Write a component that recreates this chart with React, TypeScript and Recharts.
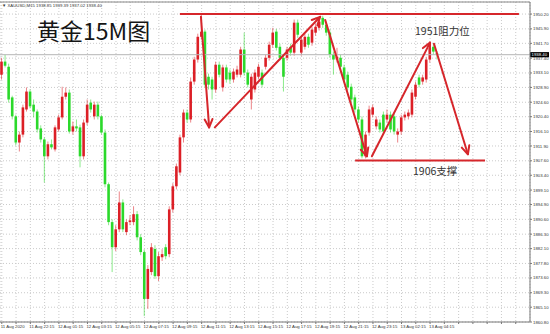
import { ComposedChart, Bar, XAxis, YAxis, CartesianGrid, ReferenceLine } from "recharts";

// XAUUSD M15, 11 Aug 20:15 -> 13 Aug 04:45
const timeLabels = [
  "11 Aug 2020", "11 Aug 22:15", "12 Aug 01:15", "12 Aug 03:15", "12 Aug 05:15", "12 Aug 07:15",
  "12 Aug 09:15", "12 Aug 11:15", "12 Aug 13:15", "12 Aug 15:15", "12 Aug 17:15", "12 Aug 19:15",
  "12 Aug 21:15", "12 Aug 23:15", "13 Aug 02:15", "13 Aug 04:15",
];

const priceTicks = [
  1860.8, 1865.1, 1869.3, 1873.6, 1877.8, 1882.1, 1886.3, 1890.6, 1894.9, 1899.1, 1903.4,
  1907.6, 1911.9, 1916.1, 1920.4, 1924.6, 1928.9, 1933.1, 1937.4, 1941.7, 1945.9, 1950.2,
];

const opens = [
  1932.6, 1936.4, 1934.9, 1926.0, 1920.5, 1912.9, 1915.2, 1922.5, 1927.7, 1923.9,
  1921.9, 1917.0, 1913.8, 1908.9, 1912.4, 1910.9, 1916.7, 1920.2, 1926.2, 1927.4,
  1916.1, 1917.6, 1917.3, 1908.9, 1918.7, 1924.5, 1920.5, 1923.9, 1920.5, 1915.8,
  1900.8, 1889.8, 1882.5, 1887.7, 1895.5, 1886.9, 1889.8, 1889.8, 1892.1, 1885.4,
  1881.1, 1867.5, 1875.3, 1882.0, 1874.1, 1879.6, 1882.5, 1880.5, 1893.5, 1900.2,
  1904.2, 1914.4, 1921.6, 1919.6, 1930.6, 1937.0, 1943.6, 1945.1, 1932.0, 1931.2,
  1928.3, 1935.5, 1928.9, 1934.7, 1933.2, 1931.2, 1932.6, 1932.6, 1939.9, 1933.2,
  1925.4, 1928.3, 1932.0, 1933.2, 1934.9, 1937.5, 1941.3, 1945.1, 1940.7, 1937.5,
  1937.5, 1940.7, 1939.0, 1947.7, 1939.0, 1940.7, 1943.6, 1941.9, 1944.8, 1946.2,
  1949.1, 1947.1, 1944.8, 1938.4, 1937.0, 1937.5, 1934.7, 1932.6, 1929.1, 1926.0,
  1922.5, 1919.6, 1908.9, 1915.8, 1921.0, 1917.6, 1918.7, 1921.0, 1919.6, 1921.0,
  1920.5, 1915.2, 1916.1, 1920.2, 1920.5, 1921.0, 1926.2, 1931.8, 1930.6, 1931.2,
  1937.0, 1940.7, 1938.85,
];

const highs = [
  1937.5, 1938.4, 1935.8, 1926.5, 1921.0, 1916.1, 1923.9, 1928.9, 1928.3, 1925.4,
  1922.5, 1917.9, 1914.4, 1913.2, 1913.8, 1917.9, 1921.0, 1929.1, 1928.9, 1928.3,
  1919.0, 1919.6, 1918.1, 1919.6, 1925.4, 1925.4, 1924.8, 1924.8, 1921.0, 1916.7,
  1901.3, 1890.6, 1888.9, 1898.7, 1896.4, 1890.6, 1891.8, 1894.4, 1893.0, 1886.3,
  1881.9, 1877.3, 1883.7, 1883.1, 1881.1, 1881.9, 1883.4, 1894.4, 1901.1, 1906.8,
  1915.2, 1922.5, 1922.5, 1931.8, 1937.8, 1944.5, 1950.0, 1945.7, 1932.9, 1932.0,
  1936.4, 1936.4, 1935.5, 1935.5, 1934.1, 1934.4, 1935.2, 1940.7, 1944.8, 1934.1,
  1932.9, 1934.1, 1935.8, 1934.1, 1938.4, 1942.2, 1946.2, 1945.9, 1941.6, 1938.4,
  1940.7, 1941.6, 1948.6, 1948.6, 1943.6, 1944.5, 1944.5, 1946.5, 1947.4, 1948.8,
  1949.7, 1948.0, 1945.7, 1939.3, 1940.4, 1938.4, 1935.5, 1933.5, 1930.0, 1926.8,
  1923.4, 1920.5, 1916.1, 1923.6, 1923.9, 1920.5, 1919.6, 1921.9, 1922.5, 1921.9,
  1921.3, 1917.0, 1921.0, 1921.9, 1922.5, 1928.3, 1930.6, 1932.6, 1932.6, 1937.8,
  1942.2, 1941.6, 1939.39,
];

const lows = [
  1931.2, 1934.7, 1924.5, 1919.6, 1912.1, 1910.3, 1914.4, 1921.9, 1922.8, 1920.2,
  1915.8, 1912.9, 1901.3, 1908.0, 1910.9, 1910.3, 1916.1, 1919.6, 1925.4, 1915.5,
  1915.2, 1916.1, 1905.7, 1908.0, 1917.9, 1921.6, 1919.6, 1919.6, 1915.2, 1899.9,
  1888.9, 1875.3, 1881.4, 1886.9, 1886.9, 1886.0, 1888.9, 1888.9, 1884.5, 1880.2,
  1862.5, 1864.6, 1874.4, 1873.3, 1872.7, 1878.5, 1879.0, 1879.6, 1892.6, 1899.3,
  1903.4, 1912.9, 1918.7, 1918.7, 1929.7, 1936.1, 1942.8, 1928.9, 1928.3, 1925.4,
  1927.4, 1931.8, 1927.7, 1930.3, 1930.0, 1930.3, 1931.8, 1931.8, 1932.3, 1928.9,
  1922.5, 1927.4, 1931.2, 1928.9, 1934.1, 1936.7, 1940.4, 1939.6, 1936.7, 1927.7,
  1936.7, 1938.1, 1938.1, 1943.3, 1938.1, 1939.9, 1940.4, 1941.0, 1943.9, 1945.4,
  1946.2, 1943.9, 1937.5, 1932.6, 1936.1, 1934.1, 1930.3, 1928.0, 1924.5, 1921.6,
  1918.7, 1908.3, 1908.3, 1914.9, 1920.2, 1916.7, 1915.8, 1915.2, 1918.7, 1915.8,
  1915.2, 1912.9, 1915.2, 1919.3, 1919.6, 1920.2, 1925.4, 1928.9, 1929.7, 1930.3,
  1936.1, 1938.4, 1937.02,
];

const closes = [
  1936.4, 1935.2, 1925.4, 1920.5, 1912.9, 1915.2, 1923.1, 1927.7, 1923.4, 1921.9,
  1916.7, 1913.8, 1908.9, 1912.4, 1911.5, 1917.3, 1920.2, 1926.2, 1927.4, 1916.1,
  1917.6, 1917.0, 1908.9, 1918.7, 1923.9, 1922.5, 1923.9, 1920.5, 1915.8, 1900.8,
  1889.8, 1882.5, 1887.7, 1895.5, 1887.7, 1889.8, 1890.3, 1892.1, 1885.4, 1881.1,
  1867.5, 1876.2, 1882.5, 1874.1, 1879.9, 1880.5, 1879.9, 1893.5, 1900.2, 1906.0,
  1914.4, 1921.6, 1919.6, 1930.6, 1937.0, 1943.6, 1945.1, 1929.7, 1929.7, 1928.3,
  1935.5, 1932.6, 1934.7, 1931.2, 1931.2, 1933.5, 1934.1, 1939.9, 1933.2, 1929.7,
  1932.0, 1933.2, 1934.9, 1929.7, 1937.5, 1941.3, 1944.8, 1940.4, 1937.5, 1932.0,
  1939.9, 1939.0, 1947.7, 1944.2, 1942.8, 1943.6, 1941.3, 1945.7, 1946.5, 1948.0,
  1947.1, 1944.8, 1938.4, 1937.0, 1937.8, 1934.9, 1931.2, 1928.9, 1925.4, 1922.5,
  1919.6, 1908.9, 1915.2, 1922.5, 1923.1, 1919.6, 1916.7, 1916.1, 1921.0, 1916.7,
  1916.1, 1916.1, 1920.2, 1921.0, 1921.6, 1927.4, 1929.7, 1929.7, 1931.8, 1937.0,
  1940.4, 1939.3, 1938.4,
];

const lastPrice = 1938.4;
const resistance = 1950.2;
const support = 1907.7;

// hand-drawn marks: [fromBar, fromPrice, toBar, toPrice]
const levelLines = [
  [49.9, resistance, 144.9, resistance],
  [99.0, support, 135.4, support],
];
const arrows = [
  [55.8, 1949.4, 58.1, 1917.3],
  [59.7, 1917.3, 89.2, 1949.4],
  [90.6, 1948.5, 102.3, 1908.9],
  [103.7, 1908.9, 120.0, 1941.9],
  [121.1, 1941.6, 130.6, 1909.5],
];

const candles = opens.map((o, i) => ({ i, o, h: highs[i], l: lows[i], c: closes[i] }));
const xTicks = Array.from({ length: 37 }, (_, k) => k * 4);

const UP = "#dc1f26";
const DOWN = "#2bd92b";
const PEN = "#d6262b";
const SMALL = "Liberation Sans, Arial, sans-serif";

function Candle(props: any) {
  const { x, y, width, height, payload } = props;
  if (!payload || x == null) return null;
  const top = Math.min(y, y + height);
  const bot = Math.max(y, y + height);
  const span = payload.h - payload.l || 1;
  const py = (v: number) => top + ((payload.h - v) / span) * (bot - top);
  const color = payload.c >= payload.o ? UP : DOWN;
  const cx = x + width / 2;
  const b1 = py(Math.max(payload.o, payload.c));
  const b2 = py(Math.min(payload.o, payload.c));
  return (
    <g>
      <line x1={cx} x2={cx} y1={top} y2={bot} stroke={color} strokeOpacity={0.55} />
      <rect x={cx - 1.3} y={b1} width={2.6} height={Math.max(b2 - b1, 1)} fill={color} />
    </g>
  );
}

function Arrow(props: any) {
  const { x1, y1, x2, y2 } = props;
  if (x1 == null || x2 == null) return null;
  const a = Math.atan2(y2 - y1, x2 - x1);
  const len = 9;
  const s = 0.45;
  const ax = x2 - len * Math.cos(a - s);
  const ay = y2 - len * Math.sin(a - s);
  const bx = x2 - len * Math.cos(a + s);
  const by = y2 - len * Math.sin(a + s);
  return (
    <g>
      <line x1={x1} y1={y1} x2={x2} y2={y2} stroke={PEN} strokeWidth={2} strokeLinecap="round" />
      <polyline
        points={`${ax},${ay} ${x2},${y2} ${bx},${by}`}
        fill="none"
        stroke={PEN}
        strokeWidth={2}
        strokeLinecap="round"
        strokeLinejoin="round"
      />
    </g>
  );
}

function PriceTag(props: any) {
  const vb = props.viewBox;
  if (!vb) return null;
  const x = vb.x + vb.width;
  const y = vb.y;
  return (
    <g>
      <rect x={x} y={y - 2.6} width={19} height={5.2} fill="#000" />
      <text x={x + 1.5} y={y + 1.6} fontSize={4.3} fill="#fff" fontFamily={SMALL}>
        {lastPrice.toFixed(2)}
      </text>
    </g>
  );
}

function TimeTick(props: any) {
  const { x, y, payload } = props;
  const v = payload.value;
  if (v % 8 !== 0) return null;
  const label = timeLabels[v / 8];
  if (!label) return null;
  return (
    <text x={x - 1} y={y + 4} fontSize={4.3} fill="#333" fontFamily={SMALL}>
      {label}
    </text>
  );
}

export default function App() {
  return (
    <div
      style={{
        position: "absolute",
        left: 0,
        top: 0,
        width: 550,
        height: 334,
        background: "#fff",
        overflow: "hidden",
      }}
    >
      <ComposedChart width={550} height={334} data={candles} margin={{ top: 2, right: 0, bottom: 0, left: 0 }}>
        <CartesianGrid stroke="#cacaca" strokeDasharray="1 2" />
        <XAxis
          dataKey="i"
          type="number"
          domain={[-0.5, 148]}
          allowDataOverflow
          ticks={xTicks}
          interval={0}
          height={12}
          tickSize={2}
          tickMargin={0}
          tick={<TimeTick />}
          axisLine={{ stroke: "#777" }}
          tickLine={{ stroke: "#777" }}
        />
        <YAxis
          orientation="right"
          width={20}
          domain={[1860.8, 1953.7]}
          allowDataOverflow
          ticks={priceTicks}
          interval={0}
          tickSize={2}
          tickMargin={1}
          tick={{ fontSize: 4.3, fill: "#333", fontFamily: SMALL }}
          tickFormatter={(v: number) => v.toFixed(2)}
          axisLine={{ stroke: "#777" }}
          tickLine={{ stroke: "#777" }}
        />
        <ReferenceLine y={1953.7} stroke="#888" />
        <ReferenceLine y={lastPrice} stroke="#b5b5b5" label={PriceTag} />
        <Bar dataKey={(d: any) => [d.l, d.h]} shape={Candle} barSize={3} isAnimationActive={false} />
        {levelLines.map(([xa, ya, xb, yb], k) => (
          <ReferenceLine
            key={`lv${k}`}
            segment={[{ x: xa, y: ya }, { x: xb, y: yb }]}
            stroke={PEN}
            strokeWidth={2}
          />
        ))}
        {arrows.map(([xa, ya, xb, yb], k) => (
          <ReferenceLine key={`ar${k}`} segment={[{ x: xa, y: ya }, { x: xb, y: yb }]} shape={Arrow} />
        ))}
      </ComposedChart>
      <svg width={550} height={12} style={{ position: "absolute", left: 0, top: 0 }}>
        <text x={2} y={6.5} fontSize={4.3} fill="#333" fontFamily={SMALL}>
          ▼ XAUUSD,M15  1938.85 1939.39 1937.02 1938.40
        </text>
      </svg>
      <div
        style={{
          position: "absolute",
          left: 37,
          top: 19,
          fontSize: 23,
          lineHeight: 1,
          color: "#151515",
          fontFamily: "Noto Sans CJK SC",
        }}
      >
        黄金15M图
      </div>
      <div
        style={{
          position: "absolute",
          left: 415,
          top: 26,
          fontSize: 10.5,
          lineHeight: 1,
          color: "#333",
          fontFamily: "Noto Sans CJK SC",
        }}
      >
        1951阻力位
      </div>
      <div
        style={{
          position: "absolute",
          left: 413,
          top: 166,
          fontSize: 10.5,
          lineHeight: 1,
          color: "#333",
          fontFamily: "Noto Sans CJK SC",
        }}
      >
        1906支撑
      </div>
    </div>
  );
}
